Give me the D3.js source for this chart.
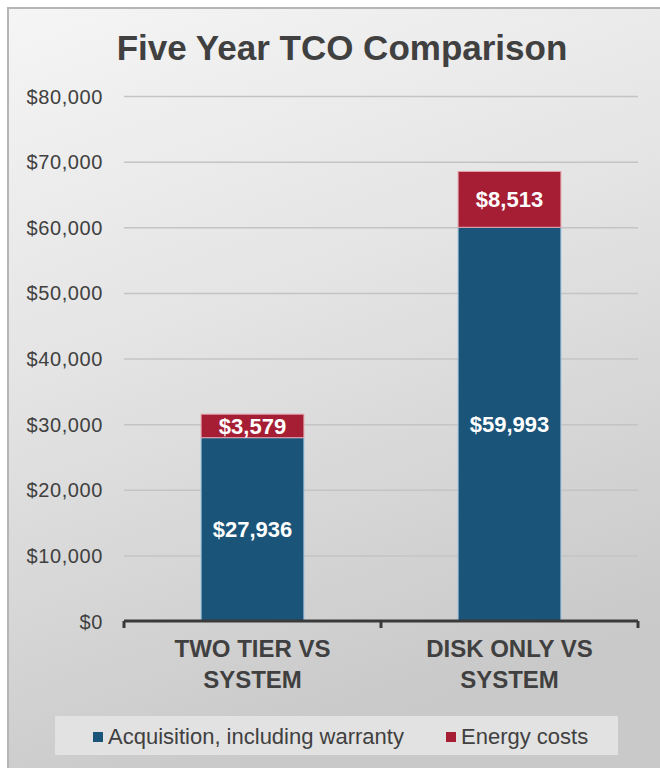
<!DOCTYPE html>
<html>
<head>
<meta charset="utf-8">
<title>Five Year TCO Comparison</title>
<script src="https://d3js.org/d3.v7.min.js"></script>
<style>
  body { margin: 0; background: #fff; }
  svg text { font-family: "Liberation Sans", Arial, sans-serif; }
  .grid line { stroke: #c4c4c4; stroke-width: 1.5px; }
  .grid .domain { display: none; }
  .yaxis text { font-size: 20px; fill: #404040; letter-spacing: 0.6px; }
  .yaxis .domain, .yaxis line { display: none; }
</style>
</head>
<body>
<svg width="660" height="768"></svg>
<script>
  // data
  var categories = ["TWO TIER VS SYSTEM", "DISK ONLY VS SYSTEM"];
  var categoryLines = [["TWO TIER VS", "SYSTEM"], ["DISK ONLY VS", "SYSTEM"]];
  var acquisition = [27936, 59993];
  var energy = [3579, 8513];
  var seriesNames = ["Acquisition, including warranty", "Energy costs"];
  var seriesColors = ["#1b5479", "#a61e34"];
  var yTicks = [0, 10000, 20000, 30000, 40000, 50000, 60000, 70000, 80000];

  var svg = d3.select("svg");

  // panel background
  var defs = svg.append("defs");
  var grad = defs.append("linearGradient").attr("id", "bg")
      .attr("x1", "0%").attr("y1", "0%").attr("x2", "30%").attr("y2", "100%");
  grad.append("stop").attr("offset", "0%").attr("stop-color", "#f5f5f5");
  grad.append("stop").attr("offset", "45%").attr("stop-color", "#e4e4e4");
  grad.append("stop").attr("offset", "100%").attr("stop-color", "#c9c9c9");

  svg.append("rect").attr("x", 8).attr("y", 8).attr("width", 660).attr("height", 770)
      .attr("fill", "url(#bg)").attr("stroke", "#b5b5b5").attr("stroke-width", 2);

  svg.append("text").attr("x", 342).attr("y", 60)
      .attr("text-anchor", "middle").attr("font-size", 35).attr("font-weight", "bold")
      .attr("fill", "#404040").text("Five Year TCO Comparison");

  var margin = { left: 124, right: 22, top: 96, bottom: 147 };
  var plotW = 660 - margin.left - margin.right;
  var plotH = 768 - margin.top - margin.bottom;
  var g = svg.append("g").attr("transform", "translate(" + margin.left + "," + margin.top + ")");

  var x = d3.scaleBand().domain(categories).range([0, plotW]).paddingInner(0.6).paddingOuter(0.3);
  var y = d3.scaleLinear().domain([0, 80000]).range([plotH, 0]);

  g.append("g").attr("class", "grid")
      .call(d3.axisLeft(y).tickValues(yTicks.slice(1)).tickSize(-plotW).tickFormat(""));

  g.append("g").attr("class", "yaxis")
      .attr("transform", "translate(-18,0)")
      .call(d3.axisLeft(y).tickValues(yTicks).tickSize(0)
        .tickFormat(function (d) { return "$" + d3.format(",")(d); }))
      .selectAll("text").attr("dy", "0.35em");

  var rows = categories.map(function (c, i) {
    return { cat: c, lines: categoryLines[i], a: acquisition[i], e: energy[i] };
  });
  var stacked = d3.stack().keys(["a", "e"])(rows);

  g.selectAll(".series").data(stacked).enter().append("g")
      .attr("fill", function (d, i) { return seriesColors[i]; })
      .attr("stroke", function (d, i) { return i === 0 ? "#9fc3dd" : "#e6a3ad"; })
      .attr("stroke-width", 1)
    .selectAll("rect").data(function (d) { return d; }).enter().append("rect")
      .attr("x", function (d) { return x(d.data.cat); })
      .attr("width", x.bandwidth())
      .attr("y", function (d) { return y(d[1]); })
      .attr("height", function (d) { return y(d[0]) - y(d[1]); });

  // value labels
  stacked.forEach(function (s) {
    g.selectAll(null).data(s).enter().append("text")
        .attr("x", function (d) { return x(d.data.cat) + x.bandwidth() / 2; })
        .attr("y", function (d) { return (y(d[0]) + y(d[1])) / 2; })
        .attr("dy", "0.35em")
        .attr("text-anchor", "middle").attr("font-size", 22).attr("font-weight", "bold")
        .attr("fill", "#fff")
        .text(function (d) { return "$" + d3.format(",")(d[1] - d[0]); });
  });

  // x axis line with ticks between categories
  var xAxis = g.append("g").attr("transform", "translate(0," + plotH + ")");
  xAxis.append("line").attr("x1", 0).attr("x2", plotW)
      .attr("stroke", "#3a3a3a").attr("stroke-width", 3);
  [0, plotW / 2, plotW].forEach(function (t) {
    xAxis.append("line").attr("x1", t).attr("x2", t).attr("y1", 0).attr("y2", 7)
        .attr("stroke", "#3a3a3a").attr("stroke-width", 3);
  });

  rows.forEach(function (r) {
    var t = xAxis.append("text")
        .attr("x", x(r.cat) + x.bandwidth() / 2).attr("y", 36)
        .attr("text-anchor", "middle").attr("font-size", 24).attr("font-weight", "bold")
        .attr("fill", "#404040");
    r.lines.forEach(function (l, i) {
      t.append("tspan").attr("x", x(r.cat) + x.bandwidth() / 2).attr("dy", i === 0 ? 0 : 31).text(l);
    });
  });

  // legend
  var legend = svg.append("g");
  legend.append("rect").attr("x", 55).attr("y", 716).attr("width", 563).attr("height", 39)
      .attr("fill", "#e2e2e2");
  var legendX = [93, 446];
  seriesNames.forEach(function (n, i) {
    legend.append("rect").attr("x", legendX[i]).attr("y", 732).attr("width", 10).attr("height", 10)
        .attr("fill", seriesColors[i]);
    legend.append("text").attr("x", legendX[i] + 15).attr("y", 744)
        .attr("font-size", 22).attr("fill", "#404040").text(n);
  });
</script>
</body>
</html>
